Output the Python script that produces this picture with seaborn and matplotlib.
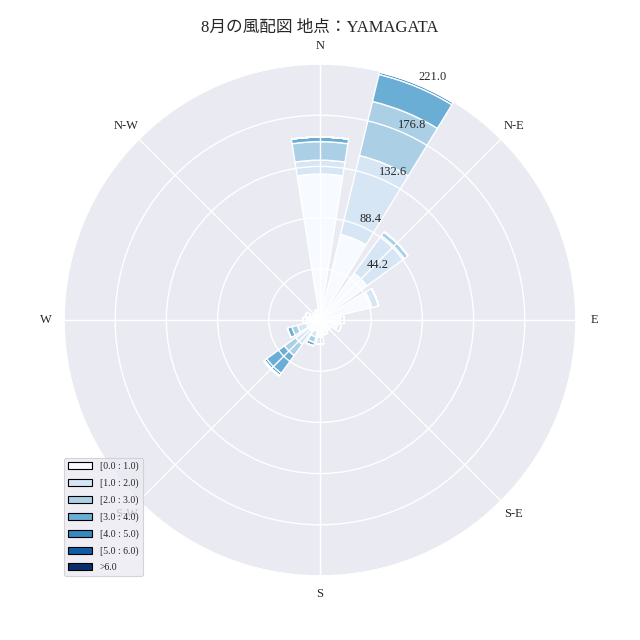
import numpy as np
import pandas as pd
import matplotlib
matplotlib.use("Agg")
import matplotlib.pyplot as plt
from matplotlib.patches import Rectangle
import seaborn as sns

# ---- data -------------------------------------------------------------
directions = ["N", "NNE", "NE", "ENE", "E", "ESE", "SE", "SSE",
              "S", "SSW", "SW", "WSW", "W", "WNW", "NW", "NNW"]
direction_deg = [0, 22.5, 45, 67.5, 90, 112.5, 135, 157.5,
                 180, 202.5, 225, 247.5, 270, 292.5, 315, 337.5]
speed_bins = ["[0.0 : 1.0)", "[1.0 : 2.0)", "[2.0 : 3.0)", "[3.0 : 4.0)",
              "[4.0 : 5.0)", "[5.0 : 6.0)", ">6.0"]

# counts per direction for each speed bin
bin_0_1 = [126, 76, 50, 46, 18, 16, 9, 11, 15, 10, 12, 12, 12, 10, 6, 8]
bin_1_2 = [12, 70, 40, 6, 3, 3, 2, 2, 6, 5, 14, 8, 3, 3, 1, 1]
bin_2_3 = [16, 48, 4, 0, 0, 0, 0, 0, 0, 5, 12, 5, 0, 0, 0, 0]
bin_3_4 = [4, 24, 0, 0, 0, 0, 0, 0, 0, 3, 19, 4, 0, 0, 0, 0]
bin_4_5 = [0, 2, 0, 0, 0, 0, 0, 0, 0, 0, 2, 0, 0, 0, 0, 0]
bin_5_6 = [0, 1, 0, 0, 0, 0, 0, 0, 0, 0, 1, 0, 0, 0, 0, 0]
bin_6_up = [0, 0, 0, 0, 0, 0, 0, 0, 0, 0, 0, 0, 0, 0, 0, 0]

compass_labels = ["N", "N-E", "E", "S-E", "S", "S-W", "W", "N-W"]
title_text = "8月の風配図 地点：YAMAGATA"

# ---- style ------------------------------------------------------------
sns.set_theme(style="darkgrid", context="paper")
plt.rcParams["font.family"] = ["Liberation Serif", "Noto Sans CJK JP", "DejaVu Sans"]

table = pd.DataFrame(
    [bin_0_1, bin_1_2, bin_2_3, bin_3_4, bin_4_5, bin_5_6, bin_6_up],
    index=speed_bins, columns=directions,
)

cmap = sns.color_palette("Blues", as_cmap=True)
colors = cmap(np.linspace(0, 1, len(speed_bins)))

fig = plt.figure(figsize=(6.4, 6.4), dpi=100)
ax = fig.add_axes([0.1, 0.1, 0.8, 0.8], projection="polar")
ax.set_theta_zero_location("N")
ax.set_theta_direction(-1)
ax.set_axisbelow(False)

theta = np.deg2rad(direction_deg)
width = 2 * np.pi / len(directions) * 0.8
bottom = np.zeros(len(directions))
for color, (label, row) in zip(colors, table.iterrows()):
    vals = row.values.astype(float)
    ax.bar(theta, vals, width=width, bottom=bottom, color=color,
           edgecolor="white", linewidth=1.0, zorder=1)
    bottom = bottom + vals

rmax = table.sum(axis=0).max()
radii = np.linspace(0, rmax, 6)[1:]
rlabels = ["%.1f" % r for r in radii]
ax.set_ylim(0, rmax)
ax.set_rgrids(radii, labels=[""] + rlabels[1:], angle=22.5, fontsize=9)
ax.annotate(rlabels[0], xy=(np.deg2rad(22.5), radii[0]), xytext=(27.5, 5.5),
            textcoords="offset points", ha="center", va="center", fontsize=9,
            color=plt.rcParams["ytick.color"])
ax.set_thetagrids(np.arange(0, 360, 45), labels=compass_labels, fontsize=9)
ax.tick_params(axis="x", pad=max(plt.rcParams["xtick.major.pad"] - 2.2, 0))
ax.grid(True, color="white", linewidth=1.0)

ax.set_title(title_text, fontsize=12)

handles = [Rectangle((0, 0), 0.2, 0.2, facecolor=c, edgecolor="black") for c in colors]
ax.legend(handles, speed_bins, loc="lower left", fontsize=7, handlelength=2.5,
          labelspacing=0.75, borderaxespad=0.0)

fig.savefig("out.png", dpi=100)
